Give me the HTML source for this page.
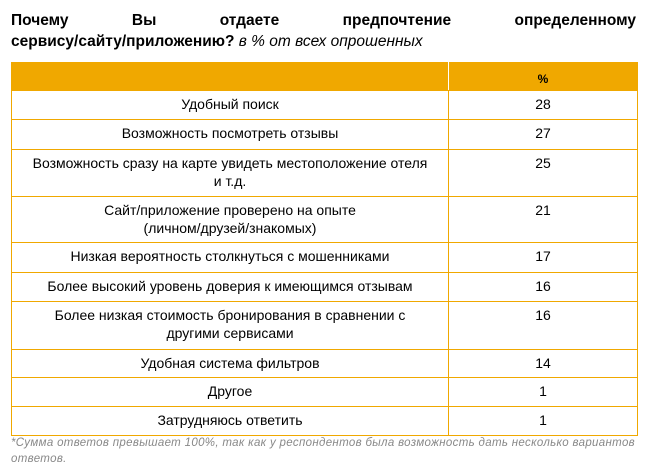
<!DOCTYPE html>
<html><head><meta charset="utf-8"><style>
body{margin:0;width:654px;height:471px;background:#fff;font-family:"Liberation Sans",Arial,sans-serif;position:relative;overflow:hidden;color:#000}
#title{position:absolute;left:11px;top:10px;width:625px;font-size:15.5px;line-height:21px;text-align:justify;text-align-last:left}
#title .l1{display:block;text-align:justify;text-align-last:justify;font-weight:bold}
#tbl{position:absolute;left:11px;top:62px;width:625px;border:1px solid #F0A800;border-top:none}
.row{display:flex;border-top:1px solid #F0A800;box-sizing:border-box}
.hdr{background:#F0A800;height:28px;border-top:none}
.c1{width:437px;border-right:1px solid #F0A800;box-sizing:border-box;text-align:center;font-size:14px;line-height:18px;padding:4px 6px;white-space:pre-line}
.c2{flex:1;text-align:center;font-size:14px;line-height:18px;padding:4px 0}
.hdr .c1{border-right:1px solid #fff}
.hdr .c2{font-weight:bold;font-size:12px;padding-top:8px}
#note{position:absolute;left:11px;top:435px;width:640px;font-size:11.5px;letter-spacing:0.33px;line-height:16px;font-style:italic;color:#888}
</style></head><body>
<div id="title"><span class="l1">Почему Вы отдаете предпочтение определенному</span><b>сервису/сайту/приложению?</b> <i>в % от всех опрошенных</i></div>
<div id="tbl"></div>
<div id="note">*Сумма ответов превышает 100%, так как у респондентов была возможность дать несколько вариантов ответов.</div>
<script>
const categories=["Удобный поиск","Возможность посмотреть отзывы","Возможность сразу на карте увидеть местоположение отеля\nи т.д.","Сайт/приложение проверено на опыте\n(личном/друзей/знакомых)","Низкая вероятность столкнуться с мошенниками","Более высокий уровень доверия к имеющимся отзывам","Более низкая стоимость бронирования в сравнении с\nдругими сервисами","Удобная система фильтров","Другое","Затрудняюсь ответить"];
const values=[28,27,25,21,17,16,16,14,1,1];
const heights=[29,30,47,46,30,29,48,28,29,29];
const tbl=document.getElementById('tbl');
const h=document.createElement('div');h.className='row hdr';


h.innerHTML='<div class="c1"></div><div class="c2">%</div>';tbl.appendChild(h);
categories.forEach((c,i)=>{const r=document.createElement('div');r.className='row';r.style.height=heights[i]+'px';


const a=document.createElement('div');a.className='c1';a.textContent=c;


const b=document.createElement('div');b.className='c2';b.textContent=values[i];


r.appendChild(a);r.appendChild(b);tbl.appendChild(r);});
</script>
</body></html>
